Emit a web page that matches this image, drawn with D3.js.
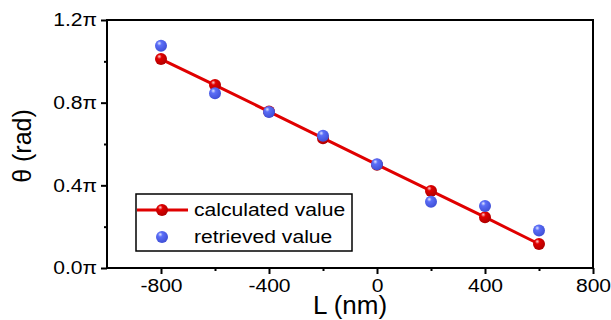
<!DOCTYPE html>
<html>
<head>
<meta charset="utf-8">
<script src="https://cdn.jsdelivr.net/npm/d3@7"></script>
<style>
  body { margin: 0; background: #fff; }
  text { font-family: "Liberation Sans", Arial, sans-serif; }
</style>
</head>
<body>
<svg width="611" height="320"></svg>
<script>
// data, theta in units of pi
const lengths = [-800, -600, -400, -200, 0, 200, 400, 600];
const calculated = [1.011, 0.885, 0.757, 0.628, 0.5, 0.373, 0.246, 0.116];
const retrieved = [1.075, 0.845, 0.755, 0.64, 0.502, 0.32, 0.30, 0.181];
const xTicks = [-800, -400, 0, 400, 800];
const xMinor = [-600, -200, 200, 600];
const yTicks = [0, 0.4, 0.8, 1.2];
const yMinor = [0.2, 0.6, 1.0];

const svg = d3.select('svg');
const margin = {left: 107, right: 18, top: 20, bottom: 52};
const width = 611 - margin.left - margin.right;
const height = 320 - margin.top - margin.bottom;
const stretch = 1.14; // labels in the original are slightly wide

const x = d3.scaleLinear().domain([-1000, 800]).range([0, width]);
const y = d3.scaleLinear().domain([0, 1.2]).range([height, 0]);

const defs = svg.append('defs');
const grad = (id, light, mid, dark) => {
  const g = defs.append('radialGradient').attr('id', id)
    .attr('cx', '40%').attr('cy', '35%').attr('r', '65%').attr('fx', '35%').attr('fy', '28%');
  g.append('stop').attr('offset', '0%').attr('stop-color', light);
  g.append('stop').attr('offset', '30%').attr('stop-color', mid);
  g.append('stop').attr('offset', '100%').attr('stop-color', dark);
};
grad('redBall', '#ffd0d0', '#e00000', '#b00000');
grad('blueBall', '#e0e6ff', '#5b6ef7', '#3f4fd6');

const g = svg.append('g').attr('transform', `translate(${margin.left},${margin.top})`);

// frame
g.append('rect').attr('width', width).attr('height', height)
  .attr('fill', 'none').attr('stroke', '#000').attr('stroke-width', 2);

// axes
const xAxis = g.append('g').attr('transform', `translate(0,${height})`)
  .call(d3.axisBottom(x).tickValues(xTicks).tickSize(6).tickPadding(5).tickFormat(d3.format('d')));
g.append('g').attr('transform', `translate(0,${height})`)
  .call(d3.axisBottom(x).tickValues(xMinor).tickSize(3).tickFormat(''));
const yAxis = g.append('g')
  .call(d3.axisLeft(y).tickValues(yTicks).tickSize(6).tickPadding(4).tickFormat(d => d3.format('.1f')(d) + 'π'));
g.append('g')
  .call(d3.axisLeft(y).tickValues(yMinor).tickSize(3).tickFormat(''));

g.selectAll('.domain').remove();
g.selectAll('.tick line').attr('stroke', '#000').attr('stroke-width', 2);
xAxis.selectAll('text').attr('font-size', 18.5).attr('fill', '#000')
  .attr('transform', `scale(${stretch},1)`)
  .text(d => d < 0 ? '-' + Math.abs(d) : d);
yAxis.selectAll('text').attr('font-size', 18.5).attr('fill', '#000')
  .attr('x', -10 / stretch).attr('transform', `scale(${stretch},1)`);

// axis titles
svg.append('text').attr('x', 350).attr('y', 314)
  .attr('text-anchor', 'middle').attr('font-size', 26).text('L (nm)');
svg.append('text').attr('transform', 'translate(31,146) rotate(-90)')
  .attr('text-anchor', 'middle').attr('font-size', 25).text('θ (rad)');

// calculated line
const line = d3.line().x((d, i) => x(lengths[i])).y(d => y(d));
g.append('path').datum(calculated).attr('d', line)
  .attr('fill', 'none').attr('stroke', '#e00000').attr('stroke-width', 3);

g.selectAll('.calc').data(calculated).enter().append('circle')
  .attr('cx', (d, i) => x(lengths[i])).attr('cy', d => y(d)).attr('r', 6)
  .attr('fill', 'url(#redBall)');

g.selectAll('.retr').data(retrieved).enter().append('circle')
  .attr('cx', (d, i) => x(lengths[i])).attr('cy', d => y(d)).attr('r', 6)
  .attr('fill', 'url(#blueBall)');

// legend
const leg = svg.append('g').attr('transform', 'translate(136,194)');
leg.append('rect').attr('width', 216).attr('height', 57)
  .attr('fill', '#fff').attr('stroke', '#000').attr('stroke-width', 1.5);
leg.append('line').attr('x1', 1).attr('x2', 52).attr('y1', 16).attr('y2', 16)
  .attr('stroke', '#e00000').attr('stroke-width', 3);
leg.append('circle').attr('cx', 26).attr('cy', 16).attr('r', 6).attr('fill', 'url(#redBall)');
leg.append('circle').attr('cx', 26).attr('cy', 43).attr('r', 6).attr('fill', 'url(#blueBall)');
leg.append('text').attr('transform', `translate(58,22) scale(${stretch},1)`)
  .attr('font-size', 18.5).text('calculated value');
leg.append('text').attr('transform', `translate(58,49) scale(${stretch},1)`)
  .attr('font-size', 18.5).text('retrieved value');
</script>
</body>
</html>
